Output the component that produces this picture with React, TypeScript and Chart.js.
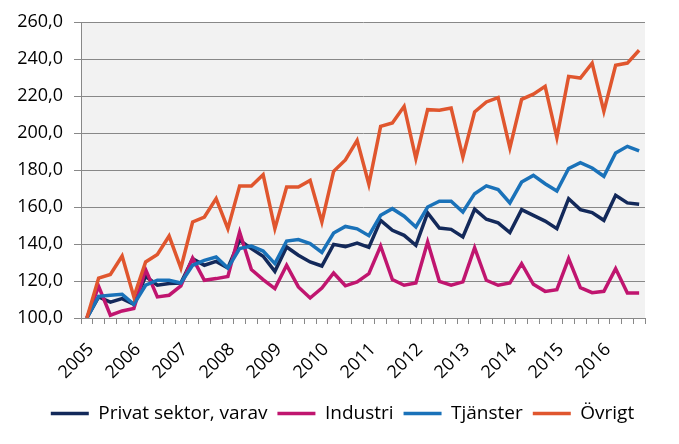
import React, { useEffect, useRef } from "react";
import { Chart, registerables } from "chart.js";

Chart.register(...registerables);

const yearLabels = ["2005", "2006", "2007", "2008", "2009", "2010", "2011", "2012", "2013", "2014", "2015", "2016"];
const quartersPerYear = 4;

const privatSektor = [
  100, 111.4, 108.6, 110.5, 107.4, 122.5, 117.7, 118.6, 118.9, 132.1, 128.5, 130.6,
  127, 142, 137.5, 133.4, 125.2, 138.4, 133.9, 130.3, 128.1, 139.8, 138.6, 140.5,
  138.2, 152.8, 147.4, 144.7, 139.3, 156.8, 148.6, 147.9, 143.8, 158.8, 153.4, 151.4,
  146.2, 158.6, 155.5, 152.4, 148.3, 164.5, 158.6, 157, 152.8, 166.3, 162.2, 161.5,
];
const industri = [
  100, 117.1, 101.5, 103.8, 105.1, 126.2, 111.4, 112.3, 117.3, 132.4, 120.4, 121.3,
  122.5, 146.5, 126.2, 120.8, 115.9, 128.5, 116.8, 110.8, 116.2, 124.3, 117.4, 119.5,
  124, 138.9, 120.8, 117.7, 118.9, 141.1, 119.8, 117.7, 119.5, 138, 120.4, 117.7,
  118.9, 129.4, 118.2, 114.4, 115.3, 132.1, 116.4, 113.7, 114.4, 126.7, 113.5, 113.5,
];
const tjanster = [
  100, 111.7, 112.3, 112.8, 107.4, 117.7, 120.4, 120.4, 118.9, 128.5, 131.2, 133,
  127, 137.5, 138.9, 136.2, 129.4, 141.6, 142.4, 140.2, 135.4, 145.9, 149.5, 148.2,
  144.5, 155.5, 159.1, 155, 149.2, 160, 163.1, 163.1, 157.3, 167.2, 171.4, 169.4,
  162.2, 173.5, 177.1, 172.6, 168.6, 180.8, 184, 181.1, 176.6, 189.2, 192.8, 190.3,
];
const ovrigt = [
  100, 121.6, 123.5, 133.5, 111.4, 130.3, 134.3, 144.3, 127, 151.9, 154.6, 164.5,
  148.3, 171.4, 171.4, 177.5, 148.3, 170.8, 170.8, 174.4, 151.9, 179.3, 185.4, 196,
  172.3, 203.6, 205.4, 214.4, 186.2, 212.6, 212.3, 213.5, 187, 211.4, 216.8, 219.1,
  191.9, 218.2, 221, 225.2, 197.5, 230.6, 229.7, 237.8, 211.7, 236.6, 237.8, 244.7,
];

const seriesNames = ["Privat sektor, varav", "Industri", "Tjänster", "Övrigt"];
const seriesColors = ["#13295a", "#c0156f", "#1a72b9", "#e0562e"];

const categories: string[] = yearLabels.flatMap((y) =>
  Array.from({ length: quartersPerYear }, (_, q) => (q === 0 ? y : ""))
);

const fmt = (v: number) => v.toFixed(1).replace(".", ",");

const plotBg = {
  id: "plotBg",
  beforeDraw(chart: any) {
    const { ctx, chartArea } = chart;
    ctx.save();
    ctx.fillStyle = "#f2f2f2";
    ctx.fillRect(chartArea.left, chartArea.top, chartArea.right - chartArea.left, chartArea.bottom - chartArea.top);
    ctx.restore();
  },
};

const legendShift = {
  id: "legendShift",
  afterLayout(chart: any) {
    const lg = chart.legend;
    if (lg) {
      lg.left += 20;
      lg.right += 20;
    }
  },
};

export default function App() {
  const ref = useRef<HTMLCanvasElement | null>(null);

  useEffect(() => {
    document.body.style.margin = "0";
    const values = [privatSektor, industri, tjanster, ovrigt];
    const chart = new Chart(ref.current!, {
      type: "line",
      data: {
        labels: categories,
        datasets: values.map((d, i) => ({
          label: seriesNames[i],
          data: d,
          borderColor: seriesColors[i],
          backgroundColor: seriesColors[i],
          borderWidth: 3.5,
          pointRadius: 0,
          tension: 0,
          order: values.length - 1 - i,
          pointStyle: "line",
        })),
      },
      options: {
        animation: false,
        responsive: false,
        maintainAspectRatio: false,
        layout: { padding: { left: 0, right: 34, top: 22, bottom: 11 } },
        font: { family: "'Open Sans'" },
        plugins: {
          tooltip: { enabled: false },
          legend: {
            position: "bottom",
            labels: {
              usePointStyle: true,
              pointStyleWidth: 38,
              boxHeight: 19,
              padding: 10,
              color: "#000",
              font: { family: "'Open Sans'", size: 19 },
              sort: (a: any, b: any) => a.datasetIndex - b.datasetIndex,
            },
          },
        },
        scales: {
          x: {
            type: "category",
            offset: true,
            grid: {
              offset: true,
              drawOnChartArea: false,
              drawTicks: true,
              tickLength: 6,
              color: "#888",
            },
            border: { color: "#888" },
            ticks: {
              autoSkip: false,
              maxRotation: 45,
              minRotation: 45,
              padding: 15,
              labelOffset: 4,
              color: "#000",
              font: { family: "'Open Sans'", size: 18 },
              callback: (_v: any, i: number) => categories[i],
            },
            afterFit: (s: any) => {
              s.height = 76;
            },
          },
          y: {
            min: 100,
            max: 260,
            ticks: {
              stepSize: 20,
              padding: 11,
              color: "#000",
              font: { family: "'Open Sans'", size: 18 },
              callback: (v: any) => fmt(Number(v)),
            },
            grid: { color: "#888", tickLength: 7, lineWidth: 1 },
            border: { color: "#888" },
            afterFit: (s: any) => {
              s.width = 81;
            },
          },
        },
      },
      plugins: [plotBg, legendShift],
    } as any);
    return () => chart.destroy();
  }, []);

  return (
    <div style={{ position: "fixed", left: 0, top: 0, width: 679, height: 444 }}>
      <canvas ref={ref} width={679} height={444} style={{ width: 679, height: 444 }} />
    </div>
  );
}
